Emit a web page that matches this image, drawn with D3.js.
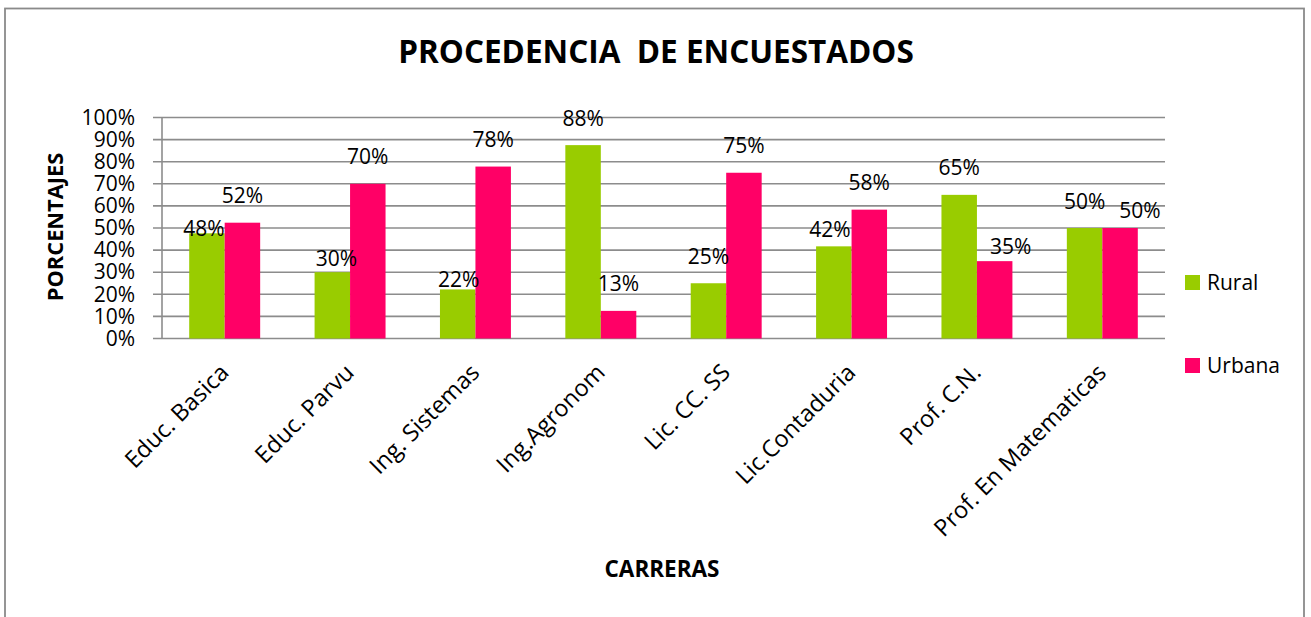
<!DOCTYPE html>
<html>
<head>
<meta charset="utf-8">
<script src="https://cdn.jsdelivr.net/npm/d3@7"></script>
<style>
  body { margin: 0; background: #fff; }
  text { font-family: "Open Sans", sans-serif; fill: #000; }
</style>
</head>
<body>
<div id="chart"></div>
<script>
// data
var categorias = ["Educ. Basica", "Educ. Parvu", "Ing. Sistemas", "Ing.Agronom",
                  "Lic. CC. SS", "Lic.Contaduria", "Prof. C.N.", "Prof. En Matematicas"];
var rural  = [0.476, 0.30, 0.222, 0.875, 0.25, 0.417, 0.65, 0.50];
var urbana = [0.524, 0.70, 0.778, 0.125, 0.75, 0.583, 0.35, 0.50];
var series = ["Rural", "Urbana"];
var yTicks = [0, 0.1, 0.2, 0.3, 0.4, 0.5, 0.6, 0.7, 0.8, 0.9, 1.0];

// hand-moved data labels (dx, dy in px from the default spot)
var nudgeRural  = [[-3, 22], [4, 13], [1, 17], [0, 0], [0, 0], [-4, 10], [0, 0], [0, 0]];
var nudgeUrbana = [[0, 0], [0, 0], [0, 0], [0, 0], [0, 0], [0, 0], [16, 12], [20, 9]];

var colors = {"Rural": "#99cc00", "Urbana": "#ff0066"};
var gridColor = "#8c8c8c";

var W = 1311, H = 617;
var margin = {top: 117.5, right: 146, bottom: 278.5, left: 162},
    width = W - margin.left - margin.right,
    height = H - margin.top - margin.bottom;

var svg = d3.select("#chart")
  .append("svg")
  .attr("width", W)
  .attr("height", H);

// outer chart border
svg.append("rect")
  .attr("x", 5).attr("y", 8.5)
  .attr("width", 1299).attr("height", 620)
  .attr("fill", "none")
  .attr("stroke", "#8a8a8a")
  .attr("stroke-width", 1.8);

// title (keeps the double space)
svg.append("text")
  .attr("x", 656).attr("y", 52)
  .attr("dy", "0.36em")
  .attr("text-anchor", "middle")
  .style("font-size", "31.5px")
  .style("font-weight", "bold")
  .style("white-space", "pre")
  .text("PROCEDENCIA  DE ENCUESTADOS");

var g = svg.append("g")
  .attr("transform", "translate(" + margin.left + "," + margin.top + ")");

var x = d3.scaleBand()
  .domain(categorias)
  .range([0, width])
  .paddingInner(0.434)
  .paddingOuter(0.217);

var xs = d3.scaleBand()
  .domain(series)
  .range([0, x.bandwidth()]);

var y = d3.scaleLinear()
  .domain([0, 1])
  .range([height, 0]);

// gridlines, sticking out left of the axis like tick marks
g.selectAll(".grid")
  .data(yTicks)
  .enter()
  .append("line")
  .attr("class", "grid")
  .attr("x1", -9).attr("x2", width)
  .attr("y1", function(d) { return y(d); })
  .attr("y2", function(d) { return y(d); })
  .attr("stroke", gridColor)
  .attr("stroke-width", 1.6);

// y axis labels
var yAxis = g.append("g")
  .call(d3.axisLeft(y).tickValues(yTicks).tickFormat(d3.format(".0%")).tickSize(0).tickPadding(27));
yAxis.select(".domain").remove();
yAxis.selectAll("text")
  .style("font-family", "'Open Sans', sans-serif")
  .style("font-size", "21px")
  .attr("fill", "#000");

g.append("line")
  .attr("x1", 0).attr("x2", 0)
  .attr("y1", 0).attr("y2", height)
  .attr("stroke", gridColor)
  .attr("stroke-width", 1.6);

var rows = categorias.map(function(c, i) {
  return [
    {cat: c, key: "Rural", value: rural[i], nudge: nudgeRural[i]},
    {cat: c, key: "Urbana", value: urbana[i], nudge: nudgeUrbana[i]}
  ];
});
var flat = [].concat.apply([], rows);

// bars
g.selectAll(".bar")
  .data(flat)
  .enter()
  .append("rect")
  .attr("class", "bar")
  .attr("x", function(d) { return x(d.cat) + xs(d.key); })
  .attr("y", function(d) { return y(d.value); })
  .attr("width", xs.bandwidth())
  .attr("height", function(d) { return height - y(d.value); })
  .attr("fill", function(d) { return colors[d.key]; });

// data labels
g.selectAll(".lbl")
  .data(flat)
  .enter()
  .append("text")
  .attr("class", "lbl")
  .attr("x", function(d) { return x(d.cat) + xs(d.key) + xs.bandwidth() / 2 + d.nudge[0]; })
  .attr("y", function(d) { return y(d.value) - 27 + d.nudge[1]; })
  .attr("dy", "0.36em")
  .attr("text-anchor", "middle")
  .style("font-size", "21px")
  .text(function(d) { return d3.format(".0%")(d.value); });

// category labels, rotated
g.selectAll(".cat")
  .data(categorias)
  .enter()
  .append("text")
  .attr("class", "cat")
  .attr("text-anchor", "end")
  .attr("transform", function(d) {
    return "translate(" + (x(d) + x.bandwidth() / 2 - 7) + "," + (height + 23) + ") rotate(-45)";
  })
  .attr("dy", "0.75em")
  .style("font-size", "23.5px")
  .text(function(d) { return d; });

// axis titles
svg.append("text")
  .attr("transform", "translate(55,227) rotate(-90)")
  .attr("dy", "0.36em")
  .attr("text-anchor", "middle")
  .style("font-size", "21.8px")
  .style("font-weight", "bold")
  .text("PORCENTAJES");

svg.append("text")
  .attr("x", 662).attr("y", 569)
  .attr("dy", "0.36em")
  .attr("text-anchor", "middle")
  .style("font-size", "22.5px")
  .style("font-weight", "bold")
  .text("CARRERAS");

// legend
var legend = svg.selectAll(".legend")
  .data(series)
  .enter()
  .append("g")
  .attr("class", "legend")
  .attr("transform", function(d, i) { return "translate(1185," + (275 + i * 83) + ")"; });

legend.append("rect")
  .attr("width", 15).attr("height", 15)
  .attr("fill", function(d) { return colors[d]; });

legend.append("text")
  .attr("x", 22).attr("y", 7.5)
  .attr("dy", "0.36em")
  .style("font-size", "21px")
  .text(function(d) { return d; });
</script>
</body>
</html>
